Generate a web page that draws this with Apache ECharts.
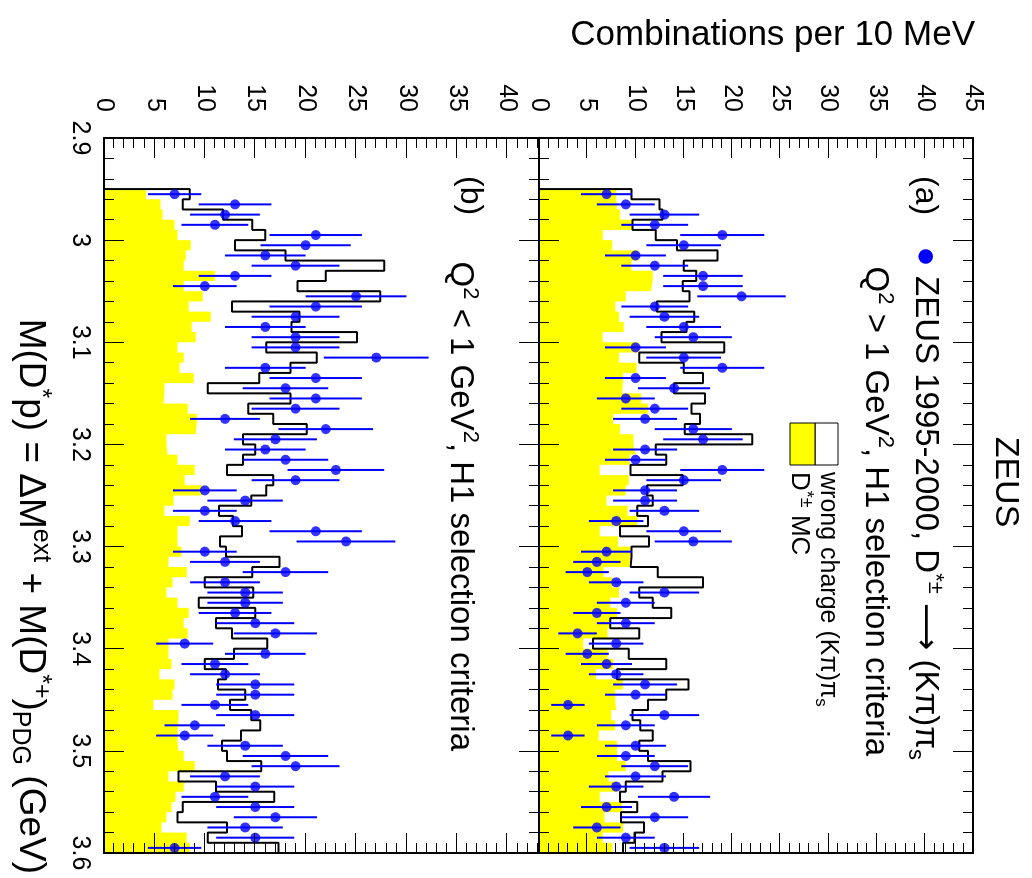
<!DOCTYPE html>
<html>
<head>
<meta charset="utf-8">
<script src="https://cdn.jsdelivr.net/npm/echarts@6/dist/echarts.min.js"></script>
<style>
html, body { margin: 0; padding: 0; background: #fff; overflow: hidden; }
#page { position: absolute; left: 0; top: 0; width: 1032px; height: 878px; overflow: hidden; }
/* the plot is drawn upright (878 x 1032) and turned a quarter clockwise like the reference */
#chart { position: absolute; left: 0; top: 0; width: 878px; height: 1032px;
  transform-origin: 0 0; transform: translate(1032px, 0) rotate(90deg); }
</style>
</head>
<body>
<div id="page"><div id="chart"></div></div>
<script>
// 65 bins of 10 MeV starting at 2.95 GeV
const binLow = 2.95
const binWidth = 0.01

// (a) Q^2 > 1 GeV^2
const zeusA = [7, 9, 13, 12, 19, 15, 10, 12, 17, 17, 21, 12, 13, 15, 16, 10,
  15, 19, 10, 14, 9, 12, 11, 16, 17, 11, 10, 19, 15, 11, 11, 13,
  8, 15, 16, 7, 6, 5, 8, 13, 9, 6, 9, 4, 8, 5, 7, 8,
  11, 10, 3, 13, 9, 3, 10, 9, 12, 10, 8, 14, 7, 12, 6, 9, 13]
const wrongA = [9.6, 12.5, 12.8, 9.7, 12.1, 14.3, 18.5, 15.0, 16.3, 14.9, 15.6, 12.2, 16.1, 15.3, 12.7, 19.2,
  10.4, 15.0, 17.0, 14.0, 17.2, 15.8, 16.7, 15.1, 22.1, 12.1, 13.2, 9.5, 14.9, 11.2, 11.8, 10.2,
  11.3, 8.4, 11.4, 9.6, 9.5, 12.3, 17.0, 10.4, 11.8, 13.7, 7.4, 10.4, 5.6, 9.3, 13.2, 8.1,
  15.5, 13.2, 11.3, 9.7, 10.5, 11.8, 10.4, 11.3, 15.7, 12.8, 9.0, 8.4, 10.2, 8.5, 10.9, 9.9, 8.7]
const mcA = [8.0, 8.1, 8.4, 9.7, 6.6, 7.6, 10.3, 9.6, 11.8, 11.6, 9.0, 7.9, 8.3, 8.8, 6.6, 10.3,
  8.3, 10.1, 8.7, 8.6, 10.6, 11.3, 7.7, 8.4, 9.8, 10.0, 9.4, 6.3, 9.3, 9.0, 7.0, 9.2,
  10.2, 6.3, 8.2, 9.5, 9.4, 6.7, 7.6, 8.3, 7.4, 8.1, 7.4, 7.1, 4.6, 7.1, 7.7, 5.9,
  8.7, 7.9, 8.0, 7.5, 7.9, 6.2, 8.1, 8.1, 9.0, 7.2, 8.1, 6.3, 8.6, 6.8, 8.7, 6.6, 7.6]

// (b) Q^2 < 1 GeV^2
const zeusB = [7, 13, 12, 11, 21, 20, 16, 19, 13, 10, 25, 21, 19, 16, 19, 19,
  27, 16, 21, 18, 21, 19, 12, 22, 17, 16, 18, 23, 19, 10, 14, 10,
  13, 21, 24, 10, 12, 18, 12, 14, 14, 13, 15, 17, 8, 16, 11, 12,
  15, 15, 11, 15, 9, 8, 14, 18, 19, 12, 15, 11, 15, 17, 14, 15, 7]
const wrongB = [8.5, 7.8, 11.8, 14.7, 16.0, 13.0, 18.0, 27.8, 22.0, 19.2, 27.4, 12.7, 19.4, 18.6, 25.1, 16.1,
  21.1, 18.5, 15.4, 10.3, 18.5, 14.3, 16.8, 20.1, 13.8, 15.0, 13.8, 12.2, 16.8, 16.1, 14.6, 11.4,
  12.8, 13.7, 11.5, 12.1, 17.4, 14.7, 10.0, 14.8, 9.4, 15.0, 11.1, 12.7, 16.2, 12.9, 10.0, 12.1,
  11.3, 14.0, 12.5, 14.6, 15.5, 13.6, 11.7, 12.2, 15.6, 7.4, 11.1, 16.9, 7.8, 7.3, 12.2, 10.3, 17.3]
const mcB = [4.2, 5.6, 5.8, 7.0, 7.3, 8.6, 8.1, 7.9, 11.0, 7.9, 9.8, 8.4, 10.6, 8.7, 9.1, 7.3,
  7.9, 7.5, 8.9, 6.0, 5.9, 8.3, 9.2, 9.1, 6.2, 6.3, 7.3, 9.0, 8.0, 9.7, 6.9, 6.0,
  8.5, 7.3, 7.3, 7.7, 6.4, 8.2, 6.8, 6.2, 7.3, 8.4, 7.9, 8.3, 6.4, 6.4, 6.7, 5.5,
  7.0, 6.8, 4.9, 7.4, 7.3, 7.3, 7.4, 7.9, 9.0, 6.4, 7.9, 7.1, 6.7, 6.2, 5.7, 8.2, 8.5]

const FONT = '"Liberation Sans", Arial, Helvetica, sans-serif'
const BLUE = '#0000ff'

let chart = echarts.init(document.getElementById('chart'))

// left bin edges + closing edge, for step histograms
function edges(vals) {
  let pts = vals.map((v, i) => [+(binLow + i * binWidth).toFixed(3), v])
  pts.push([+(binLow + vals.length * binWidth).toFixed(3), vals[vals.length - 1]])
  return pts
}
function centers(vals) {
  return vals.map((v, i) => [+(binLow + (i + 0.5) * binWidth).toFixed(4), v])
}

function massAxis(grid, pos, labels) {
  return {
    type: 'value', gridIndex: grid, position: pos, min: 2.9, max: 3.6, interval: 0.1, z: 10,
    axisLine: {show: true, onZero: false, lineStyle: {color: '#000', width: 2}},
    axisTick: {show: true, inside: true, length: 20, lineStyle: {color: '#000', width: 1}},
    minorTick: {show: true, splitNumber: 5, length: 10, lineStyle: {color: '#000', width: 1}},
    splitLine: {show: false},
    axisLabel: {show: labels, color: '#000', fontSize: 25, fontFamily: FONT, margin: 12}
  }
}
function countAxis(grid, pos, max, labels) {
  return {
    type: 'value', gridIndex: grid, position: pos, min: 0, max: max, interval: 5, z: 10,
    axisLine: {show: true, onZero: false, lineStyle: {color: '#000', width: 2}},
    axisTick: {show: true, inside: true, length: 20, lineStyle: {color: '#000', width: 1}},
    minorTick: {show: true, splitNumber: 5, length: 10, lineStyle: {color: '#000', width: 1}},
    splitLine: {show: false},
    axisLabel: {show: labels, color: '#000', fontSize: 25, fontFamily: FONT, margin: 26,
      showMaxLabel: max % 5 === 0,
      formatter: v => (Math.abs(v % 5) < 1e-6 ? String(v) : '')}
  }
}

function panelSeries(xi, yi, zeus, wrong, mc) {
  return [
    {
      type: 'line', xAxisIndex: xi, yAxisIndex: yi, step: 'end', symbol: 'none', silent: true,
      data: edges(mc), lineStyle: {width: 0}, areaStyle: {color: '#ffff00', opacity: 1}, z: 1
    },
    {
      type: 'line', xAxisIndex: xi, yAxisIndex: yi, step: 'end', symbol: 'none', silent: true,
      data: [[binLow, 0]].concat(edges(wrong)), lineStyle: {color: '#000', width: 2}, z: 2
    },
    {
      type: 'custom', xAxisIndex: xi, yAxisIndex: yi, z: 3, silent: true,
      data: centers(zeus).map(([x, n]) => [x, n - Math.sqrt(n), n + Math.sqrt(n)]),
      encode: {x: 0, y: [1, 2]},
      renderItem: (params, api) => {
        const a = api.coord([api.value(0), api.value(1)])
        const b = api.coord([api.value(0), api.value(2)])
        return {type: 'line', shape: {x1: a[0], y1: a[1], x2: b[0], y2: b[1]},
          style: {stroke: BLUE, lineWidth: 2}}
      }
    },
    {
      type: 'scatter', xAxisIndex: xi, yAxisIndex: yi, z: 4, silent: true,
      data: centers(zeus), symbol: 'circle', symbolSize: 10, itemStyle: {color: BLUE}
    }
  ]
}

const txt = {fill: '#000', fontFamily: FONT}
const rich = {
  sup: {fontSize: 22, fontFamily: FONT, fill: '#000', verticalAlign: 'top', lineHeight: 42},
  sub: {fontSize: 22, fontFamily: FONT, fill: '#000', verticalAlign: 'bottom', lineHeight: 42},
  dot: {fontSize: 34, fontFamily: FONT, fill: BLUE, lineHeight: 42},
  arr: {fontSize: 33, fontFamily: '"DejaVu Sans", sans-serif', fill: '#000', lineHeight: 42}
}
const richBig = {
  sup: {fontSize: 25, fontFamily: FONT, fill: '#000', verticalAlign: 'top', lineHeight: 46},
  sub: {fontSize: 25, fontFamily: FONT, fill: '#000', verticalAlign: 'bottom', lineHeight: 46}
}

let option = {
  animation: false,
  backgroundColor: '#fff',
  grid: [
    {left: 138, width: 715, top: 59, height: 434},
    {left: 138, width: 715, top: 493, height: 435}
  ],
  xAxis: [
    massAxis(0, 'bottom', false),
    massAxis(0, 'top', false),
    massAxis(1, 'bottom', true),
    massAxis(1, 'top', false)
  ],
  yAxis: [
    countAxis(0, 'left', 45, true),
    countAxis(0, 'right', 45, false),
    countAxis(1, 'left', 43.15, true),
    countAxis(1, 'right', 43.15, false)
  ],
  series: [].concat(panelSeries(0, 0, zeusA, wrongA, mcA), panelSeries(2, 2, zeusB, wrongB, mcB)),
  graphic: [
    {type: 'text', x: 482, y: 27, style: Object.assign({text: 'ZEUS', fontSize: 34,
      align: 'center', verticalAlign: 'middle'}, txt)},
    {type: 'text', x: 35, y: 57, rotation: Math.PI / 2, style: Object.assign({text: 'Combinations per 10 MeV',
      fontSize: 35, align: 'right', verticalAlign: 'middle'}, txt)},
    {type: 'text', x: 874, y: 1002, style: Object.assign({
      text: 'M(D{sup|*}p) = ΔM{sup|ext} + M(D{sup|*+}){sub|PDG} (GeV)',
      fontSize: 37, lineHeight: 46, align: 'right', verticalAlign: 'middle', rich: richBig}, txt)},
    // panel (a)
    {type: 'text', x: 176, y: 107, style: Object.assign({text: '(a)', fontSize: 32,
      align: 'left', verticalAlign: 'middle'}, txt)},
    {type: 'text', x: 760, y: 107, style: Object.assign({
      text: '{dot|●} ZEUS 1995-2000, D{sup|*±} {arr|⟶} (Kπ)π{sub|s}',
      fontSize: 33, lineHeight: 42, align: 'right', verticalAlign: 'middle', rich: rich}, txt)},
    {type: 'text', x: 756, y: 157, style: Object.assign({
      text: 'Q{sup|2} > 1 GeV{sup|2}, H1 selection criteria',
      fontSize: 33, lineHeight: 42, align: 'right', verticalAlign: 'middle', rich: rich}, txt)},
    {type: 'rect', shape: {x: 423, y: 194, width: 42, height: 23}, style: {fill: '#fff', stroke: '#000', lineWidth: 1}},
    {type: 'rect', shape: {x: 423, y: 217, width: 42, height: 25}, style: {fill: '#ffff00', stroke: '#000', lineWidth: 1}},
    {type: 'text', x: 472, y: 204, style: Object.assign({text: 'wrong charge (Kπ)π{sub|s}',
      fontSize: 25, lineHeight: 32, align: 'left', verticalAlign: 'middle',
      rich: {sub: {fontSize: 17, fontFamily: FONT, fill: '#000', verticalAlign: 'bottom', lineHeight: 32}}}, txt)},
    {type: 'text', x: 472, y: 233, style: Object.assign({text: 'D{sup|*±} MC',
      fontSize: 26, lineHeight: 32, align: 'left', verticalAlign: 'middle',
      rich: {sup: {fontSize: 18, fontFamily: FONT, fill: '#000', verticalAlign: 'top', lineHeight: 32}}}, txt)},
    // panel (b)
    {type: 'text', x: 176, y: 562, style: Object.assign({text: '(b)', fontSize: 32,
      align: 'left', verticalAlign: 'middle'}, txt)},
    {type: 'text', x: 751, y: 572, style: Object.assign({
      text: 'Q{sup|2} < 1 GeV{sup|2}, H1 selection criteria',
      fontSize: 33, lineHeight: 42, align: 'right', verticalAlign: 'middle', rich: rich}, txt)}
  ]
}

chart.setOption(option)
</script>
</body>
</html>
